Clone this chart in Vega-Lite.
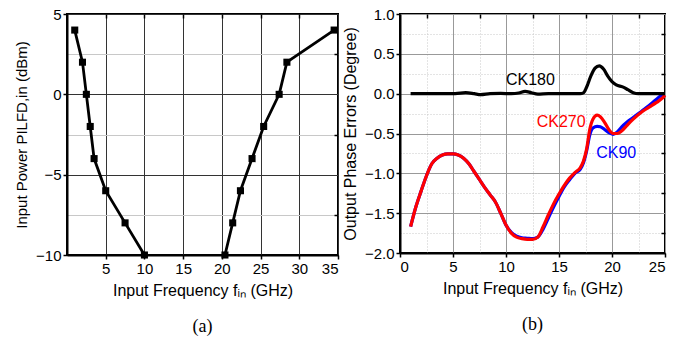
{
  "$schema": "https://vega.github.io/schema/vega-lite/v6.json",
  "padding": {"left": 13, "top": 6, "right": 5, "bottom": 3},
  "spacing": 0,
  "config": {
    "font": "Liberation Sans",
    "view": {"stroke": "black", "strokeWidth": 2},
    "axis": {
      "labelFont": "Liberation Sans", "titleFont": "Liberation Sans",
      "labelFontSize": 15, "titleFontSize": 16, "titleFontWeight": "normal",
      "labelColor": "black", "titleColor": "black", "tickColor": "black",
      "domainColor": "black", "domainWidth": 2, "tickWidth": 1.5, "tickSize": 4, "labelPadding": 2
    },
    "title": {"font": "Liberation Serif", "fontSize": 18, "fontWeight": "normal", "color": "black"}
  },
  "hconcat": [
    {
      "width": 271, "height": 241,
      "title": {"text": "(a)", "orient": "bottom", "offset": 20},
      "data": {"values": [
        {"f": 1, "p": 4, "s": "L"}, {"f": 2, "p": 2, "s": "L"}, {"f": 2.5, "p": 0, "s": "L"},
        {"f": 3, "p": -2, "s": "L"}, {"f": 3.5, "p": -4, "s": "L"}, {"f": 5, "p": -6, "s": "L"},
        {"f": 7.5, "p": -8, "s": "L"}, {"f": 10, "p": -10, "s": "L"},
        {"f": 20.4, "p": -10, "s": "R"}, {"f": 21.4, "p": -8, "s": "R"}, {"f": 22.4, "p": -6, "s": "R"},
        {"f": 23.9, "p": -4, "s": "R"}, {"f": 25.4, "p": -2, "s": "R"}, {"f": 27.4, "p": 0, "s": "R"},
        {"f": 28.4, "p": 2, "s": "R"}, {"f": 34.5, "p": 4, "s": "R"}
      ]},
      "layer": [
        {
          "mark": {"type": "line", "color": "black", "strokeWidth": 2.8},
          "encoding": {
            "x": {"field": "f", "type": "quantitative", "scale": {"domain": [0, 35], "nice": false},
              "axis": {"orient": "bottom", "values": [5, 10, 15, 20, 25, 30, 35], "title": "Input Frequency fᵢₙ (GHz)",
                "grid": true, "gridColor": "#333", "gridWidth": 1, "titlePadding": 6}},
            "y": {"field": "p", "type": "quantitative", "scale": {"domain": [-10, 5], "nice": false},
              "axis": {"orient": "left", "values": [-10, -5, 0, 5], "title": "Input Power PILFD,in (dBm)", "titleFontSize": 15,
                "grid": true, "gridColor": "#333", "gridWidth": 1, "titlePadding": 6}},
            "detail": {"field": "s"}
          }
        },
        {
          "mark": {"type": "square", "color": "black", "size": 50, "opacity": 1},
          "encoding": {
            "x": {"field": "f", "type": "quantitative",
              "axis": {"orient": "top", "values": [5, 10, 15, 20, 25, 30], "labels": false, "domain": false, "title": null, "grid": false, "tickSize": -4}},
            "y": {"field": "p", "type": "quantitative",
              "axis": {"orient": "right", "values": [-7.5, -2.5, 2.5], "labels": false, "domain": false, "title": null,
                "grid": true, "gridColor": "#c8c8c8", "gridWidth": 1, "tickSize": -4}}
          }
        }
      ],
      "resolve": {"axis": {"x": "independent", "y": "independent"}}
    },
    {
      "width": 265, "height": 239,
      "title": {"text": "(b)", "orient": "bottom", "offset": 20},
      "data": {"values": [
        {"f": 1.0, "e": -1.67, "s": "CK270"}, {"f": 1.5, "e": -1.42, "s": "CK270"}, {"f": 2.0, "e": -1.22, "s": "CK270"},
        {"f": 2.5, "e": -1.03, "s": "CK270"}, {"f": 3.0, "e": -0.88, "s": "CK270"}, {"f": 3.5, "e": -0.81, "s": "CK270"},
        {"f": 4.0, "e": -0.77, "s": "CK270"}, {"f": 4.5, "e": -0.755, "s": "CK270"}, {"f": 5.0, "e": -0.755, "s": "CK270"},
        {"f": 5.5, "e": -0.77, "s": "CK270"}, {"f": 6.0, "e": -0.81, "s": "CK270"}, {"f": 6.5, "e": -0.88, "s": "CK270"},
        {"f": 7.0, "e": -0.98, "s": "CK270"}, {"f": 7.5, "e": -1.08, "s": "CK270"}, {"f": 8.0, "e": -1.18, "s": "CK270"},
        {"f": 8.5, "e": -1.27, "s": "CK270"}, {"f": 9.0, "e": -1.36, "s": "CK270"}, {"f": 9.5, "e": -1.5, "s": "CK270"},
        {"f": 10.0, "e": -1.65, "s": "CK270"}, {"f": 10.5, "e": -1.75, "s": "CK270"}, {"f": 11.0, "e": -1.8, "s": "CK270"},
        {"f": 11.5, "e": -1.82, "s": "CK270"}, {"f": 12.0, "e": -1.83, "s": "CK270"}, {"f": 12.5, "e": -1.83, "s": "CK270"},
        {"f": 13.0, "e": -1.8, "s": "CK270"}, {"f": 13.5, "e": -1.67, "s": "CK270"}, {"f": 14.0, "e": -1.52, "s": "CK270"},
        {"f": 14.5, "e": -1.38, "s": "CK270"}, {"f": 15.0, "e": -1.26, "s": "CK270"}, {"f": 15.5, "e": -1.15, "s": "CK270"},
        {"f": 16.0, "e": -1.06, "s": "CK270"}, {"f": 16.5, "e": -0.99, "s": "CK270"}, {"f": 17.0, "e": -0.93, "s": "CK270"},
        {"f": 17.3, "e": -0.85, "s": "CK270"}, {"f": 17.6, "e": -0.7, "s": "CK270"}, {"f": 17.9, "e": -0.45, "s": "CK270"},
        {"f": 18.2, "e": -0.32, "s": "CK270"}, {"f": 18.6, "e": -0.27, "s": "CK270"}, {"f": 18.9, "e": -0.29, "s": "CK270"},
        {"f": 19.3, "e": -0.36, "s": "CK270"}, {"f": 19.7, "e": -0.45, "s": "CK270"}, {"f": 20.1, "e": -0.5, "s": "CK270"},
        {"f": 20.5, "e": -0.5, "s": "CK270"}, {"f": 20.9, "e": -0.47, "s": "CK270"}, {"f": 21.4, "e": -0.4, "s": "CK270"},
        {"f": 22.0, "e": -0.32, "s": "CK270"}, {"f": 22.8, "e": -0.23, "s": "CK270"}, {"f": 23.5, "e": -0.17, "s": "CK270"},
        {"f": 24.2, "e": -0.11, "s": "CK270"}, {"f": 24.8, "e": -0.05, "s": "CK270"}, {"f": 25.0, "e": -0.02, "s": "CK270"},

        {"f": 1.0, "e": -1.67, "s": "CK90"}, {"f": 1.5, "e": -1.42, "s": "CK90"}, {"f": 2.0, "e": -1.22, "s": "CK90"},
        {"f": 2.5, "e": -1.03, "s": "CK90"}, {"f": 3.0, "e": -0.88, "s": "CK90"}, {"f": 3.5, "e": -0.81, "s": "CK90"},
        {"f": 4.0, "e": -0.77, "s": "CK90"}, {"f": 4.5, "e": -0.755, "s": "CK90"}, {"f": 5.0, "e": -0.755, "s": "CK90"},
        {"f": 5.5, "e": -0.77, "s": "CK90"}, {"f": 6.0, "e": -0.81, "s": "CK90"}, {"f": 6.5, "e": -0.88, "s": "CK90"},
        {"f": 7.0, "e": -0.98, "s": "CK90"}, {"f": 7.5, "e": -1.08, "s": "CK90"}, {"f": 8.0, "e": -1.18, "s": "CK90"},
        {"f": 8.5, "e": -1.27, "s": "CK90"}, {"f": 9.0, "e": -1.36, "s": "CK90"}, {"f": 9.5, "e": -1.5, "s": "CK90"},
        {"f": 10.0, "e": -1.65, "s": "CK90"}, {"f": 10.5, "e": -1.74, "s": "CK90"}, {"f": 11.0, "e": -1.79, "s": "CK90"},
        {"f": 11.5, "e": -1.81, "s": "CK90"}, {"f": 12.0, "e": -1.815, "s": "CK90"}, {"f": 12.5, "e": -1.82, "s": "CK90"},
        {"f": 13.0, "e": -1.8, "s": "CK90"}, {"f": 13.5, "e": -1.7, "s": "CK90"}, {"f": 14.0, "e": -1.56, "s": "CK90"},
        {"f": 14.5, "e": -1.42, "s": "CK90"}, {"f": 15.0, "e": -1.29, "s": "CK90"}, {"f": 15.5, "e": -1.17, "s": "CK90"},
        {"f": 16.0, "e": -1.08, "s": "CK90"}, {"f": 16.5, "e": -1.0, "s": "CK90"}, {"f": 17.0, "e": -0.95, "s": "CK90"},
        {"f": 17.3, "e": -0.87, "s": "CK90"}, {"f": 17.6, "e": -0.72, "s": "CK90"}, {"f": 17.9, "e": -0.52, "s": "CK90"},
        {"f": 18.2, "e": -0.43, "s": "CK90"}, {"f": 18.6, "e": -0.41, "s": "CK90"}, {"f": 18.9, "e": -0.415, "s": "CK90"},
        {"f": 19.3, "e": -0.45, "s": "CK90"}, {"f": 19.7, "e": -0.49, "s": "CK90"}, {"f": 20.1, "e": -0.51, "s": "CK90"},
        {"f": 20.5, "e": -0.48, "s": "CK90"}, {"f": 20.9, "e": -0.42, "s": "CK90"}, {"f": 21.4, "e": -0.36, "s": "CK90"},
        {"f": 22.0, "e": -0.3, "s": "CK90"}, {"f": 22.8, "e": -0.22, "s": "CK90"}, {"f": 23.5, "e": -0.15, "s": "CK90"},
        {"f": 24.2, "e": -0.07, "s": "CK90"}, {"f": 24.7, "e": -0.02, "s": "CK90"}, {"f": 25.0, "e": -0.01, "s": "CK90"},

        {"f": 1.0, "e": 0.0, "s": "CK180"}, {"f": 2.5, "e": 0.0, "s": "CK180"}, {"f": 4.0, "e": 0.0, "s": "CK180"},
        {"f": 5.2, "e": 0.0, "s": "CK180"}, {"f": 6.2, "e": 0.012, "s": "CK180"}, {"f": 7.0, "e": 0.0, "s": "CK180"},
        {"f": 7.6, "e": -0.012, "s": "CK180"}, {"f": 8.5, "e": 0.0, "s": "CK180"}, {"f": 9.5, "e": 0.003, "s": "CK180"},
        {"f": 10.5, "e": 0.0, "s": "CK180"}, {"f": 11.2, "e": 0.008, "s": "CK180"}, {"f": 11.8, "e": 0.03, "s": "CK180"},
        {"f": 12.4, "e": 0.012, "s": "CK180"}, {"f": 13.0, "e": -0.005, "s": "CK180"}, {"f": 14.0, "e": 0.0, "s": "CK180"},
        {"f": 15.5, "e": 0.0, "s": "CK180"}, {"f": 17.0, "e": 0.0, "s": "CK180"}, {"f": 17.3, "e": 0.01, "s": "CK180"},
        {"f": 17.6, "e": 0.08, "s": "CK180"}, {"f": 18.0, "e": 0.22, "s": "CK180"}, {"f": 18.4, "e": 0.32, "s": "CK180"},
        {"f": 18.8, "e": 0.35, "s": "CK180"}, {"f": 19.2, "e": 0.31, "s": "CK180"}, {"f": 19.6, "e": 0.22, "s": "CK180"},
        {"f": 20.0, "e": 0.15, "s": "CK180"}, {"f": 20.4, "e": 0.11, "s": "CK180"}, {"f": 21.0, "e": 0.085, "s": "CK180"},
        {"f": 21.5, "e": 0.05, "s": "CK180"}, {"f": 22.0, "e": 0.012, "s": "CK180"}, {"f": 22.5, "e": 0.0, "s": "CK180"},
        {"f": 23.5, "e": 0.0, "s": "CK180"}, {"f": 25.0, "e": 0.0, "s": "CK180"}
      ]},
      "layer": [
        {
          "transform": [{"filter": "datum.s === 'CK90'"}],
          "mark": {"type": "line", "color": "#0000ff", "strokeWidth": 3.2, "interpolate": "monotone"},
          "encoding": {
            "x": {"field": "f", "type": "quantitative", "scale": {"domain": [0, 25], "nice": false},
              "axis": {"orient": "bottom", "values": [0, 5, 10, 15, 20, 25], "title": "Input Frequency fᵢₙ (GHz)",
                "grid": true, "gridColor": "#999", "gridWidth": 1, "titlePadding": 6}},
            "y": {"field": "e", "type": "quantitative", "scale": {"domain": [-2, 1], "nice": false},
              "axis": {"orient": "left", "values": [-2, -1.5, -1, -0.5, 0, 0.5, 1], "format": ".1f", "title": "Output Phase Errors (Degree)",
                "grid": true, "gridColor": "#999", "gridWidth": 1, "titlePadding": 6}}
          }
        },
        {
          "transform": [{"filter": "datum.s === 'CK270'"}],
          "mark": {"type": "line", "color": "#ff0000", "strokeWidth": 3.2, "interpolate": "monotone"},
          "encoding": {
            "x": {"field": "f", "type": "quantitative", "axis": null},
            "y": {"field": "e", "type": "quantitative", "axis": null}
          }
        },
        {
          "transform": [{"filter": "datum.s === 'CK180'"}],
          "mark": {"type": "line", "color": "black", "strokeWidth": 3.2, "interpolate": "monotone"},
          "encoding": {
            "x": {"field": "f", "type": "quantitative", "axis": null},
            "y": {"field": "e", "type": "quantitative", "axis": null}
          }
        },
        {
          "data": {"values": [
            {"f": 12.3, "e": 0.17, "label": "CK180"},
            {"f": 15.2, "e": -0.35, "label": "CK270"},
            {"f": 20.4, "e": -0.74, "label": "CK90"}
          ]},
          "mark": {"type": "text", "fontSize": 16, "font": "Liberation Sans"},
          "encoding": {
            "x": {"field": "f", "type": "quantitative",
              "axis": {"orient": "top", "values": [2.5, 7.5, 12.5, 17.5, 22.5], "labels": false, "domain": false, "title": null,
                "grid": true, "gridColor": "#c8c8c8", "gridDash": [1, 2], "gridWidth": 1, "tickSize": -4}},
            "y": {"field": "e", "type": "quantitative",
              "axis": {"orient": "right", "values": [-1.75, -1.25, -0.75, -0.25, 0.25, 0.75], "labels": false, "domain": false, "title": null,
                "grid": true, "gridColor": "#c8c8c8", "gridDash": [1, 2], "gridWidth": 1, "tickSize": -4}},
            "text": {"field": "label"},
            "color": {"field": "label", "type": "nominal", "scale": {"domain": ["CK180", "CK270", "CK90"], "range": ["black", "#ff0000", "#0000ff"]}, "legend": null}
          }
        }
      ],
      "resolve": {"axis": {"x": "independent", "y": "independent"}}
    }
  ]
}
